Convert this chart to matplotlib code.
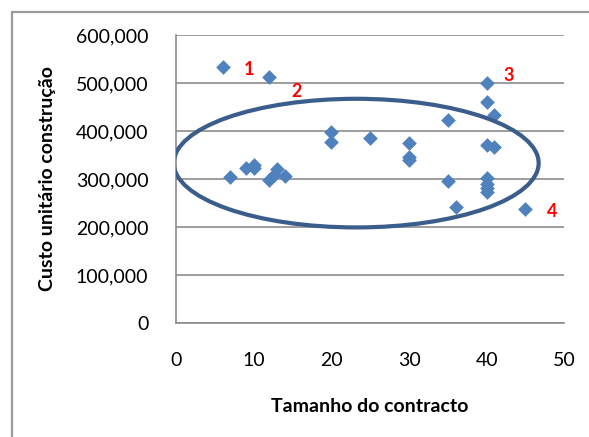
import matplotlib.pyplot as plt
from matplotlib.patches import Ellipse, Rectangle
from matplotlib.ticker import FuncFormatter

plt.rcParams['font.family'] = ['Lato', 'DejaVu Sans']

# tamanho do contracto vs custo unitario
tamanho = [6, 12, 7, 9, 10, 10, 12, 13, 12.6, 14, 20, 20, 25,
           30, 30, 30, 35, 35, 36, 40, 40, 41, 40, 41, 40, 40, 40, 40, 45]
custo = [533000, 512000, 305000, 322000, 329000, 322000, 298000, 320000, 308000, 307000,
         397000, 376000, 385000, 374000, 346000, 339000, 423000, 296000, 241000,
         500000, 461000, 433000, 371000, 367000, 301000, 289000, 281000, 272000, 237000]

labels = ['1', '2', '3', '4']
label_x = [9.4, 15.5, 42.9, 48.5]
label_y = [527000, 483000, 515000, 233000]

fig = plt.figure(figsize=(5.89, 4.37), dpi=100)
ax = fig.add_axes([0.299, 0.261, 0.659, 0.659])

# outer chart frame
fig.patches.append(Rectangle((0.021, -0.05), 1.2, 1.022, transform=fig.transFigure,
                             fill=False, edgecolor='#9a9a9a', linewidth=1.6))

ax.scatter(tamanho, custo, marker='D', s=56, color='#4f81bd', zorder=3, linewidths=0)

ell = Ellipse((23.2, 333000), 47, 268000, fill=False, edgecolor='#3a5d8c',
              linewidth=3, zorder=4)
ax.add_patch(ell)

for t, x, y in zip(labels, label_x, label_y):
    ax.text(x, y, t, color='#ff0000', fontsize=13, fontweight='bold',
            ha='center', va='center')

ax.set_xlim(0, 50)
ax.set_ylim(0, 600000)
ax.set_xticks(range(0, 51, 10))
ax.set_yticks(range(0, 600001, 100000))
ax.yaxis.set_major_formatter(FuncFormatter(lambda v, p: f'{int(v):,}'))
ax.tick_params(length=0, labelsize=14)
ax.tick_params(axis='y', pad=20)
ax.tick_params(axis='x', pad=21)
ax.grid(axis='y', color='#8c8c8c', linewidth=1.2)
ax.set_axisbelow(True)
for s in ['top', 'right']:
    ax.spines[s].set_visible(False)
for s in ['left', 'bottom']:
    ax.spines[s].set_color('#8c8c8c')
    ax.spines[s].set_linewidth(1.2)

ax.set_xlabel('Tamanho do contracto', fontsize=14, fontweight='bold', labelpad=21)
ax.set_ylabel('Custo unitário construção', fontsize=14, fontweight='bold', labelpad=14)

fig.savefig('out.png', dpi=100)
